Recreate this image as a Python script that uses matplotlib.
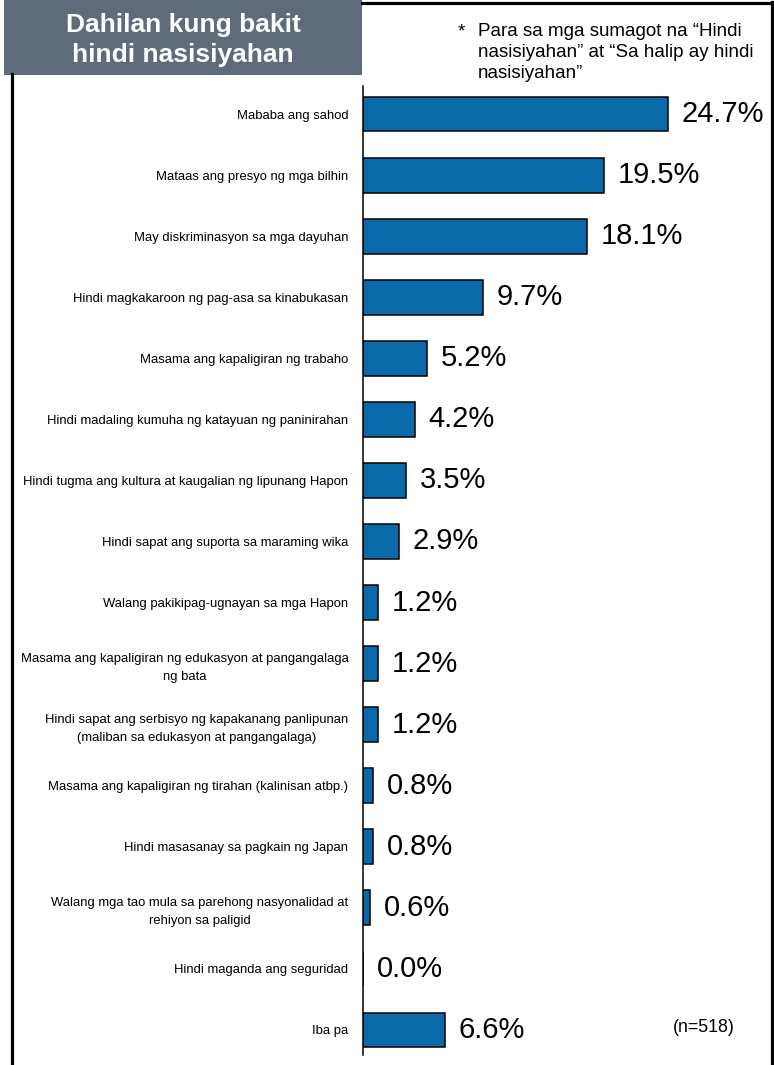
import matplotlib.pyplot as plt
from matplotlib.patches import Rectangle
from matplotlib.lines import Line2D

plt.rcParams['font.family'] = ['Liberation Sans', 'DejaVu Sans']

reasons = [
    "Mababa ang sahod",
    "Mataas ang presyo ng mga bilhin",
    "May diskriminasyon sa mga dayuhan",
    "Hindi magkakaroon ng pag-asa sa kinabukasan",
    "Masama ang kapaligiran ng trabaho",
    "Hindi madaling kumuha ng katayuan ng paninirahan",
    "Hindi tugma ang kultura at kaugalian ng lipunang Hapon",
    "Hindi sapat ang suporta sa maraming wika",
    "Walang pakikipag-ugnayan sa mga Hapon",
    "Masama ang kapaligiran ng edukasyon at pangangalaga\nng bata",
    "Hindi sapat ang serbisyo ng kapakanang panlipunan\n(maliban sa edukasyon at pangangalaga)",
    "Masama ang kapaligiran ng tirahan (kalinisan atbp.)",
    "Hindi masasanay sa pagkain ng Japan",
    "Walang mga tao mula sa parehong nasyonalidad at\nrehiyon sa paligid",
    "Hindi maganda ang seguridad",
    "Iba pa",
]
percent = [24.7, 19.5, 18.1, 9.7, 5.2, 4.2, 3.5, 2.9, 1.2, 1.2, 1.2, 0.8, 0.8, 0.6, 0.0, 6.6]

title = "Dahilan kung bakit\nhindi nasisiyahan"
note = "Para sa mga sumagot na “Hindi\nnasisiyahan” at “Sa halip ay hindi\nnasisiyahan”"
sample = "(n=518)"

W, H = 774, 1065
fig = plt.figure(figsize=(W / 100, H / 100), dpi=100)

# axes placed in pixel terms: left spine at x=363, runs y=86..1055
ax = fig.add_axes([363 / W, 1 - 1055 / H, (771 - 363) / W, (1055 - 86) / H])

pos = list(range(len(reasons)))
ax.barh(pos, percent, height=0.57, color='#0a69a8', edgecolor='black', linewidth=1.1)

for p, v in zip(pos, percent):
    ax.annotate(f"{v:.1f}%", (v, p), xytext=(10, 0), textcoords='offset points',
                va='center', ha='left', fontsize=21)

ax.set_xlim(0, (771 - 363) / 12.35)
ax.set_ylim(15.41, -0.46)
ax.set_xticks([])
ax.set_yticks(pos)
ax.set_yticklabels(reasons, fontsize=9.4, linespacing=1.6)
for lbl in ax.get_yticklabels():
    lbl.set_multialignment('center')
ax.tick_params(axis='y', length=0, pad=10.5)
for s in ['top', 'right', 'bottom']:
    ax.spines[s].set_visible(False)
ax.spines['left'].set_linewidth(1.1)
ax.patch.set_alpha(0)

fig.text(735 / W, 1 - 1028 / H, sample, ha='right', va='center', fontsize=12.8)

# outer frame
fig.add_artist(Line2D([362 / W, 773 / W], [1 - 3 / H, 1 - 3 / H], color='black', lw=2.3))
fig.add_artist(Line2D([771.8 / W, 771.8 / W], [1 - 2 / H, 0], color='black', lw=2.3))
fig.add_artist(Line2D([12.5 / W, 12.5 / W], [1 - 74 / H, 0], color='black', lw=2.3))

# title box
fig.add_artist(Rectangle((4 / W, 1 - 75 / H), (362 - 4) / W, 75 / H,
                         transform=fig.transFigure, facecolor='#5f6b7a', edgecolor='none'))
fig.text(183 / W, 1 - 40 / H, title, ha='center', va='center', color='white',
         fontsize=19, fontweight='bold', linespacing=1.35)

# footnote
fig.text(458 / W, 1 - 23 / H, "*", ha='left', va='top', fontsize=13.5)
fig.text(478 / W, 1 - 23 / H, note, ha='left', va='top', fontsize=13.5, linespacing=1.3)

fig.savefig('out.png', dpi=100)
